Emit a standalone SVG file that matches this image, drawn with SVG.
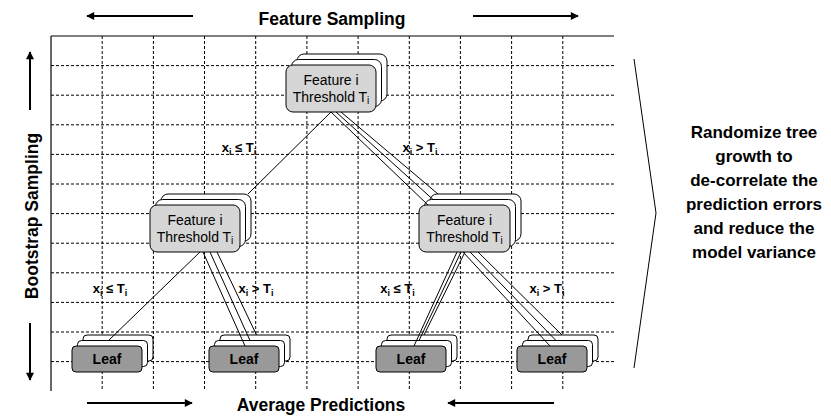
<svg xmlns="http://www.w3.org/2000/svg" width="831" height="419" viewBox="0 0 831 419">
<style>
.grid{stroke:#000;stroke-width:1;stroke-dasharray:3 2;fill:none}
.frame{stroke:#000;stroke-width:1.2;fill:none}
.arr{stroke:#000;stroke-width:2;fill:none}
.edge{stroke:#000;stroke-width:1;fill:none}
.back{fill:#fff;stroke:#000;stroke-width:1}
.node{fill:#d6d6d6;stroke:#000;stroke-width:1}
.leaf{fill:#999;stroke:#000;stroke-width:1}
text{font-family:"Liberation Sans",Arial,sans-serif;fill:#000}
.h{font-size:17.5px;font-weight:bold;text-anchor:middle}
.side{font-size:17px;font-weight:bold;text-anchor:middle}
.nt{font-size:14px;text-anchor:middle}
.lt{font-size:14px;font-weight:bold;text-anchor:middle}
.lbl{font-size:13px;font-weight:bold;text-anchor:middle}
</style>
<defs>
<marker id="ah" markerUnits="userSpaceOnUse" viewBox="0 0 10 10" markerWidth="9" markerHeight="8" refX="9" refY="5" orient="auto">
<path d="M0,0 L10,5 L0,10 z" fill="#000"/>
</marker>
</defs>
<g id="grid">
<line class="grid" x1="51" y1="65.6" x2="614" y2="65.6"/>
<line class="grid" x1="51" y1="95.2" x2="614" y2="95.2"/>
<line class="grid" x1="51" y1="124.8" x2="614" y2="124.8"/>
<line class="grid" x1="51" y1="154.4" x2="614" y2="154.4"/>
<line class="grid" x1="51" y1="184" x2="614" y2="184"/>
<line class="grid" x1="51" y1="213.6" x2="614" y2="213.6"/>
<line class="grid" x1="51" y1="243.2" x2="614" y2="243.2"/>
<line class="grid" x1="51" y1="272.8" x2="614" y2="272.8"/>
<line class="grid" x1="51" y1="302.4" x2="614" y2="302.4"/>
<line class="grid" x1="51" y1="332" x2="614" y2="332"/>
<line class="grid" x1="51" y1="361.6" x2="614" y2="361.6"/>
<line class="grid" x1="102.2" y1="36" x2="102.2" y2="391"/>
<line class="grid" x1="153.4" y1="36" x2="153.4" y2="391"/>
<line class="grid" x1="204.5" y1="36" x2="204.5" y2="391"/>
<line class="grid" x1="255.7" y1="36" x2="255.7" y2="391"/>
<line class="grid" x1="306.9" y1="36" x2="306.9" y2="391"/>
<line class="grid" x1="358.1" y1="36" x2="358.1" y2="391"/>
<line class="grid" x1="409.3" y1="36" x2="409.3" y2="391"/>
<line class="grid" x1="460.4" y1="36" x2="460.4" y2="391"/>
<line class="grid" x1="511.6" y1="36" x2="511.6" y2="391"/>
<line class="grid" x1="562.8" y1="36" x2="562.8" y2="391"/>
<line class="frame" x1="51" y1="36" x2="614" y2="36"/>
<line class="frame" x1="51" y1="36" x2="51" y2="391"/>
</g>
<g id="axes">
<line class="arr" x1="193" y1="16" x2="87" y2="16" marker-end="url(#ah)"/>
<line class="arr" x1="473" y1="16" x2="578" y2="16" marker-end="url(#ah)"/>
<text class="h" x="332" y="25">Feature Sampling</text>
<line class="arr" x1="30" y1="110" x2="30" y2="52" marker-end="url(#ah)"/>
<line class="arr" x1="30" y1="323" x2="30" y2="380" marker-end="url(#ah)"/>
<text class="h" transform="translate(38,216) rotate(-90)">Bootstrap Sampling</text>
<line class="arr" x1="87" y1="403" x2="192" y2="403" marker-end="url(#ah)"/>
<line class="arr" x1="554" y1="403" x2="448" y2="403" marker-end="url(#ah)"/>
<text class="h" x="321" y="411">Average Predictions</text>
</g>
<g id="root">
<rect class="back" x="297" y="54" width="90" height="47" rx="7"/>
<rect class="back" x="291.5" y="59.5" width="90" height="47" rx="7"/>
<rect class="node" x="286" y="65" width="90" height="47" rx="7"/>
<text class="nt" x="331" y="84.5">Feature i</text>
<text class="nt" x="331" y="101.5">Threshold T<tspan font-size="10" dy="2.5">i</tspan></text>
</g>
<g id="split-left">
<rect class="back" x="161" y="194" width="90" height="47" rx="7"/>
<rect class="back" x="155.5" y="199.5" width="90" height="47" rx="7"/>
<rect class="node" x="150" y="205" width="90" height="47" rx="7"/>
<text class="nt" x="195" y="224.5">Feature i</text>
<text class="nt" x="195" y="241.5">Threshold T<tspan font-size="10" dy="2.5">i</tspan></text>
</g>
<g id="split-right">
<rect class="back" x="430" y="194" width="91" height="47" rx="7"/>
<rect class="back" x="424.5" y="199.5" width="91" height="47" rx="7"/>
<rect class="node" x="419" y="205" width="91" height="47" rx="7"/>
<text class="nt" x="464.5" y="224.5">Feature i</text>
<text class="nt" x="464.5" y="241.5">Threshold T<tspan font-size="10" dy="2.5">i</tspan></text>
</g>
<g id="leaf1">
<rect class="back" x="83" y="335" width="70" height="26" rx="4"/>
<rect class="back" x="77.5" y="340.5" width="70" height="26" rx="4"/>
<rect class="leaf" x="72" y="346" width="70" height="26" rx="4"/>
<text class="lt" x="107" y="364">Leaf</text>
</g>
<g id="leaf2">
<rect class="back" x="220" y="335" width="70" height="26" rx="4"/>
<rect class="back" x="214.5" y="340.5" width="70" height="26" rx="4"/>
<rect class="leaf" x="209" y="346" width="70" height="26" rx="4"/>
<text class="lt" x="244" y="364">Leaf</text>
</g>
<g id="leaf3">
<rect class="back" x="387" y="335" width="70" height="26" rx="4"/>
<rect class="back" x="381.5" y="340.5" width="70" height="26" rx="4"/>
<rect class="leaf" x="376" y="346" width="70" height="26" rx="4"/>
<text class="lt" x="411" y="364">Leaf</text>
</g>
<g id="leaf4">
<rect class="back" x="528" y="335" width="70" height="26" rx="4"/>
<rect class="back" x="522.5" y="340.5" width="70" height="26" rx="4"/>
<rect class="leaf" x="517" y="346" width="70" height="26" rx="4"/>
<text class="lt" x="552" y="364">Leaf</text>
</g>
<g id="connectors">
<line class="edge" x1="331" y1="112" x2="248" y2="194"/>
<line class="edge" x1="331" y1="112" x2="428" y2="205"/>
<line class="edge" x1="336" y1="112" x2="433" y2="199.5"/>
<line class="edge" x1="341" y1="112" x2="438" y2="194"/>
<line class="edge" x1="200" y1="252" x2="108" y2="341"/>
<line class="edge" x1="203" y1="252" x2="245" y2="346"/>
<line class="edge" x1="210" y1="252" x2="250" y2="340.5"/>
<line class="edge" x1="217" y1="252" x2="256.5" y2="335"/>
<line class="edge" x1="457" y1="252" x2="414" y2="346"/>
<line class="edge" x1="461" y1="252" x2="419" y2="340.5"/>
<line class="edge" x1="465" y1="252" x2="424" y2="335"/>
<line class="edge" x1="463" y1="252" x2="550" y2="346"/>
<line class="edge" x1="470" y1="252" x2="556" y2="340.5"/>
<line class="edge" x1="478" y1="252" x2="562" y2="335"/>
</g>
<g id="labels">
<text class="lbl" x="239" y="152">x<tspan font-size="9" dy="2.5">i</tspan><tspan dy="-2.5"> ≤ T</tspan><tspan font-size="9" dy="2.5">i</tspan></text>
<text class="lbl" x="420" y="152">x<tspan font-size="9" dy="2.5">i</tspan><tspan dy="-2.5"> &gt; T</tspan><tspan font-size="9" dy="2.5">i</tspan></text>
<text class="lbl" x="110" y="293">x<tspan font-size="9" dy="2.5">i</tspan><tspan dy="-2.5"> ≤ T</tspan><tspan font-size="9" dy="2.5">i</tspan></text>
<text class="lbl" x="256" y="293">x<tspan font-size="9" dy="2.5">i</tspan><tspan dy="-2.5"> &gt; T</tspan><tspan font-size="9" dy="2.5">i</tspan></text>
<text class="lbl" x="397.5" y="293">x<tspan font-size="9" dy="2.5">i</tspan><tspan dy="-2.5"> ≤ T</tspan><tspan font-size="9" dy="2.5">i</tspan></text>
<text class="lbl" x="547" y="293">x<tspan font-size="9" dy="2.5">i</tspan><tspan dy="-2.5"> &gt; T</tspan><tspan font-size="9" dy="2.5">i</tspan></text>
</g>
<g id="summary">
<polyline class="edge" points="634,59 656,213 634,368"/>
<text class="side" x="754" y="138">Randomize tree</text>
<text class="side" x="754" y="162">growth to</text>
<text class="side" x="754" y="186">de-correlate the</text>
<text class="side" x="754" y="210">prediction errors</text>
<text class="side" x="754" y="234">and reduce the</text>
<text class="side" x="754" y="258">model variance</text>
</g>
</svg>
